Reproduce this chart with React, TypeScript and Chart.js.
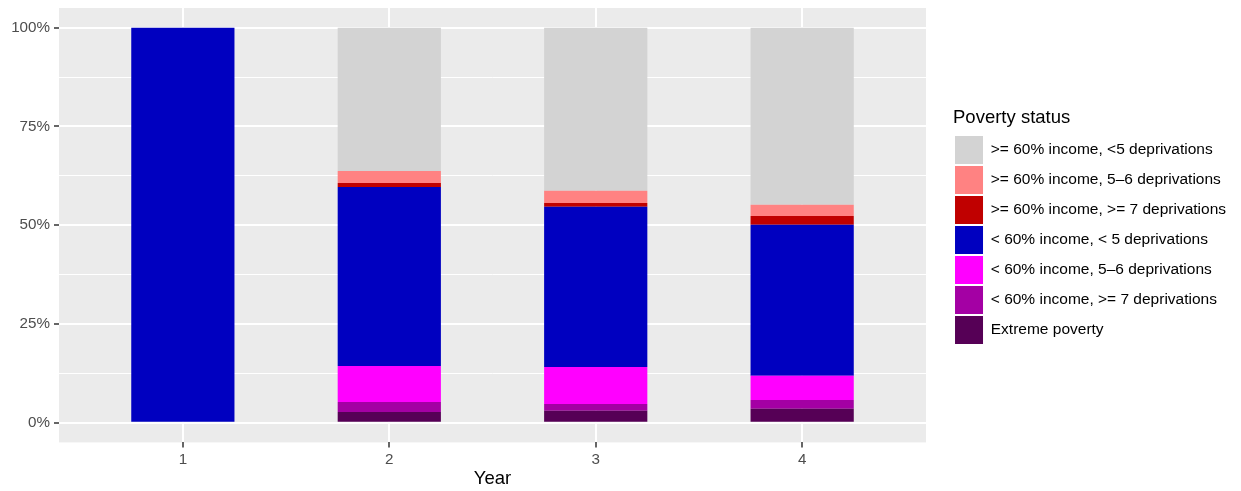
import { useEffect, useRef } from "react";
import { Chart, registerables } from "chart.js";

Chart.register(...registerables);

const years = [1, 2, 3, 4];
const extremePoverty = [0, 2.7, 3.0, 3.5];
const below60Dep7 = [0, 2.55, 1.75, 2.25];
const below60Dep56 = [0, 9.1, 9.35, 6.1];
const below60Dep5 = [100, 45.35, 40.55, 38.25];
const above60Dep7 = [0, 1.0, 1.0, 2.25];
const above60Dep56 = [0, 3.0, 3.05, 2.8];
const above60Dep5 = [0, 36.3, 41.3, 44.85];
const yTicks = [0, 12.5, 25, 37.5, 50, 62.5, 75, 87.5, 100];

const FONT = "'Liberation Sans', Arial, Helvetica, sans-serif";

const panelPlugin = {
  id: "panel",
  beforeDraw(chart: any) {
    const { ctx, chartArea: a } = chart;
    ctx.save();
    ctx.fillStyle = "#EBEBEB";
    ctx.fillRect(a.left, a.top, a.right - a.left, a.bottom - a.top);
    ctx.restore();
  },
  afterLayout(chart: any) {
    // ggplot leaves a gap between panel and legend
    const lg = chart.legend;
    if (!lg) return;
    const dx = chart.chartArea.right + 27 - lg.left;
    lg.left += dx;
    lg.right += dx;
  },
};

export default function App() {
  const canvasRef = useRef<HTMLCanvasElement | null>(null);
  const chartRef = useRef<Chart | null>(null);

  useEffect(() => {
    const canvas = canvasRef.current;
    if (!canvas) return;
    chartRef.current?.destroy();

    chartRef.current = new Chart(canvas, {
      type: "bar",
      data: {
        labels: years,
        datasets: [
          { label: "Extreme poverty", data: extremePoverty, backgroundColor: "#560056" },
          { label: "< 60% income, >= 7 deprivations", data: below60Dep7, backgroundColor: "#A400A4" },
          { label: "< 60% income, 5–6 deprivations", data: below60Dep56, backgroundColor: "#FF00FF" },
          { label: "< 60% income, < 5 deprivations", data: below60Dep5, backgroundColor: "#0000C0" },
          { label: ">= 60% income, >= 7 deprivations", data: above60Dep7, backgroundColor: "#C00000" },
          { label: ">= 60% income, 5–6 deprivations", data: above60Dep56, backgroundColor: "#FF8282" },
          { label: ">= 60% income, <5 deprivations", data: above60Dep5, backgroundColor: "#D3D3D3" },
        ],
      },
      options: {
        animation: false,
        responsive: true,
        maintainAspectRatio: false,
        borderColor: "transparent",
        datasets: { bar: { barPercentage: 0.5, categoryPercentage: 1, borderWidth: 0 } },
        layout: { padding: { top: 8, right: 32, bottom: 0, left: 0 } },
        plugins: {
          tooltip: { enabled: false },
          legend: {
            position: "right",
            fullSize: false,
            reverse: true,
            title: {
              display: true,
              text: "Poverty status",
              position: "start",
              color: "#000000",
              font: { family: FONT, size: 18.5 },
              padding: { top: 4, bottom: 3.5 },
            },
            labels: {
              boxWidth: 28,
              boxHeight: 28,
              padding: 2,
              color: "#000000",
              font: { family: FONT, size: 15.5 },
            },
          },
        },
        scales: {
          x: {
            type: "linear",
            stacked: true,
            offset: false,
            min: 0.4,
            max: 4.6,
            afterBuildTicks: (scale: any) => {
              scale.ticks = years.map((v) => ({ value: v }));
            },
            afterFit: (scale: any) => {
              scale.height = 48.6;
              scale.paddingLeft = 0;
              scale.paddingRight = 0;
            },
            ticks: {
              color: "#4D4D4D",
              font: { family: FONT, size: 15.2 },
              padding: 3,
              autoSkip: false,
              maxRotation: 0,
              callback: (v: any) => String(v),
            },
            grid: {
              offset: false,
              color: "#FFFFFF",
              lineWidth: 2,
              tickLength: 5,
              tickColor: "#333333",
              tickWidth: 1.5,
            },
            border: { display: false },
            title: {
              display: true,
              text: "Year",
              color: "#000000",
              font: { family: FONT, size: 18.5 },
              padding: { top: 0, bottom: 1 },
            },
          },
          y: {
            stacked: true,
            min: -5,
            max: 105,
            afterBuildTicks: (scale: any) => {
              scale.ticks = yTicks.map((v) => ({ value: v }));
            },
            afterFit: (scale: any) => {
              scale.width = 59;
              scale.paddingTop = 0;
              scale.paddingBottom = 0;
            },
            ticks: {
              color: "#4D4D4D",
              font: { family: FONT, size: 15.2 },
              padding: 4,
              autoSkip: false,
              callback: (v: any) => (Number(v) % 25 === 0 ? `${v}%` : ""),
            },
            grid: {
              color: "#FFFFFF",
              lineWidth: (ctx: any) => (ctx.tick && ctx.tick.value % 25 === 0 ? 2 : 1),
              tickLength: 5,
              tickColor: (ctx: any) =>
                ctx.tick && ctx.tick.value % 25 === 0 ? "#333333" : "transparent",
              tickWidth: 1.5,
            },
            border: { display: false },
          },
        },
      },
      plugins: [panelPlugin],
    });

    return () => {
      chartRef.current?.destroy();
      chartRef.current = null;
    };
  }, []);

  return (
    <div style={{ position: "fixed", left: 0, top: 0, width: 1241, height: 491, background: "#FFFFFF" }}>
      <canvas ref={canvasRef}></canvas>
    </div>
  );
}
